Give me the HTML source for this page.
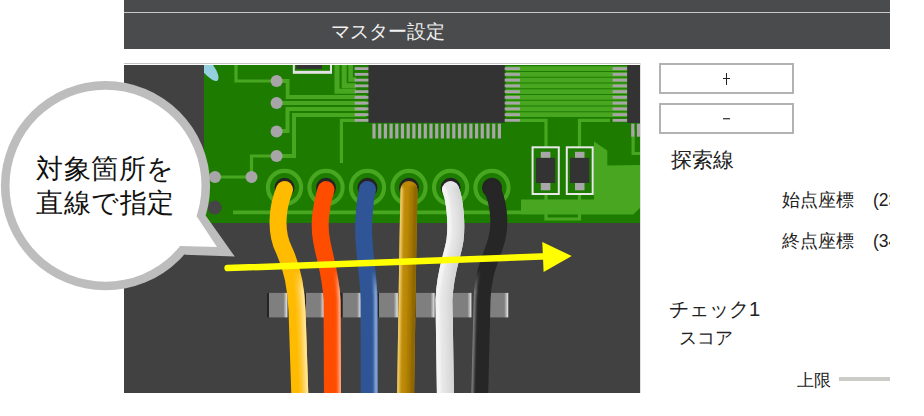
<!DOCTYPE html>
<html><head><meta charset="utf-8">
<style>
html,body{margin:0;padding:0;}
body{width:924px;height:416px;overflow:hidden;background:#fff;position:relative;font-family:"Liberation Sans",sans-serif;color:#222;}
.abs{position:absolute;}
#hdr{left:124px;top:0;width:766px;height:49px;background:#4a4b4d;}
#hdrline{left:124px;top:12px;width:766px;height:1px;background:#c9c9c9;}
#hdrtxt{left:331px;top:21px;font-size:19px;line-height:22px;color:#f0f0f0;white-space:nowrap;}
#imgline{left:124px;top:63px;width:517px;height:1px;background:#c6c4c6;}
.btn{left:659px;width:131px;height:27px;border:2px solid #b2b2b2;background:#fff;}
.t{white-space:nowrap;color:#222;}
svg{position:absolute;left:0;top:0;}
</style></head><body>
<div id="hdr" class="abs"></div>
<div id="hdrline" class="abs"></div>
<div id="hdrtxt" class="abs">マスター設定</div>
<div id="imgline" class="abs"></div>

<svg width="924" height="416" viewBox="0 0 924 416">
<defs>
<clipPath id="ic"><rect x="124" y="65" width="516" height="328"/></clipPath>
<clipPath id="pcb"><rect x="204" y="65" width="436" height="158"/></clipPath>
</defs>
<g clip-path="url(#ic)">
<rect x="124" y="65" width="516" height="328" fill="#414141"/>
<rect x="124" y="65" width="80" height="158" fill="#414141"/>
<rect x="204" y="65" width="436" height="158" fill="#1d7c00"/>
<g clip-path="url(#pcb)">
<ellipse cx="207" cy="67" rx="6" ry="17" transform="rotate(-38 207 67)" fill="#95d0e0"/>
<!-- light polygon -->
<polygon points="594,141.5 607.3,150.4 607.3,165.5 640,165 640,208 633.3,214.3 521,214.3 521,199.6 594,199.6" fill="#48a620"/>
<g fill="none" stroke="#48a620" stroke-width="3.2" stroke-linejoin="miter">
<polyline points="236,63 236,81 276,81"/>
<polyline points="276,81 287.6,81 287.6,97 366,97" stroke-width="3.8"/>
<polyline points="276,103 366,103" stroke-width="4"/>
<polyline points="276,131 287.5,131 287.5,109 366,109" stroke-width="4"/>
<polyline points="276,156 294,156 294,115 366,115" stroke-width="4"/>
<polyline points="276,156 251.5,156 251.5,177 215,177"/>
<polyline points="337,63 337,91.35 356,91.35" stroke-width="5"/>
<polyline points="344.2,63 344.2,85.7 356,85.7" stroke-width="5"/>
<polyline points="350.6,63 350.6,79.5 356,79.5" stroke-width="4.6"/>
<polyline points="341.4,163 341.4,120.3 356,120.3"/>
<polyline points="233,212.4 634,212.4" stroke-width="3.8"/>
<polyline points="610,120.3 579.5,120.3 579.5,147"/>
<polyline points="520,120.3 546,120.3 546,147"/>
<polyline points="546,194 546,219 579.5,219 579.5,194"/>
<polyline points="633.1,130 633.1,153.5 642,153.5"/>
</g>
<g stroke="#48a620" stroke-width="4.6">
<line x1="506" y1="68.6" x2="627" y2="68.6"/>
<line x1="506" y1="74.35" x2="627" y2="74.35"/>
<line x1="506" y1="80.1" x2="627" y2="80.1"/>
<line x1="506" y1="85.85" x2="627" y2="85.85"/>
<line x1="506" y1="91.6" x2="627" y2="91.6"/>
<line x1="506" y1="97.35" x2="627" y2="97.35"/>
<line x1="506" y1="103.1" x2="627" y2="103.1"/>
<line x1="506" y1="108.85" x2="627" y2="108.85"/>
<line x1="506" y1="114.6" x2="627" y2="114.6"/>
</g>
<!-- pads -->
<g fill="#a7a5a7">
<circle cx="276.6" cy="81" r="6"/>
<circle cx="276.6" cy="103" r="6"/>
<circle cx="276.6" cy="131.5" r="6"/>
<circle cx="276.6" cy="156" r="6"/>
<circle cx="251.5" cy="177" r="6"/>
<circle cx="215" cy="177" r="6"/>
</g>
<circle cx="214.7" cy="207.6" r="7" fill="#454545"/>
<!-- top component -->
<rect x="292.8" y="60" width="39.2" height="13.8" fill="#e4e2e4"/><rect x="294.8" y="60" width="35.2" height="10.8" fill="#1d7c00"/><rect x="296.3" y="60" width="25.7" height="8.9" fill="#333"/>
<!-- IC1 -->
<rect x="368.4" y="60" width="136.4" height="62.8" fill="#333"/>
<g fill="#a8a6a8" id="lp">
<rect x="354.7" y="67.2" width="13.7" height="2.8"/>
<rect x="354.7" y="72.95" width="13.7" height="2.8"/>
<rect x="354.7" y="78.7" width="13.7" height="2.8"/>
<rect x="354.7" y="84.45" width="13.7" height="2.8"/>
<rect x="354.7" y="90.2" width="13.7" height="2.8"/>
<rect x="354.7" y="95.95" width="13.7" height="2.8"/>
<rect x="354.7" y="101.7" width="13.7" height="2.8"/>
<rect x="354.7" y="107.45" width="13.7" height="2.8"/>
<rect x="354.7" y="113.2" width="13.7" height="2.8"/>
<rect x="354.7" y="118.95" width="13.7" height="2.8"/>
</g>
<g fill="#a8a6a8"><rect x="504.7" y="67.20" width="15.3" height="2.8"/><rect x="612.6" y="67.20" width="14.7" height="2.8"/><rect x="504.7" y="72.95" width="15.3" height="2.8"/><rect x="612.6" y="72.95" width="14.7" height="2.8"/><rect x="504.7" y="78.70" width="15.3" height="2.8"/><rect x="612.6" y="78.70" width="14.7" height="2.8"/><rect x="504.7" y="84.45" width="15.3" height="2.8"/><rect x="612.6" y="84.45" width="14.7" height="2.8"/><rect x="504.7" y="90.20" width="15.3" height="2.8"/><rect x="612.6" y="90.20" width="14.7" height="2.8"/><rect x="504.7" y="95.95" width="15.3" height="2.8"/><rect x="612.6" y="95.95" width="14.7" height="2.8"/><rect x="504.7" y="101.70" width="15.3" height="2.8"/><rect x="612.6" y="101.70" width="14.7" height="2.8"/><rect x="504.7" y="107.45" width="15.3" height="2.8"/><rect x="612.6" y="107.45" width="14.7" height="2.8"/><rect x="504.7" y="113.20" width="15.3" height="2.8"/><rect x="612.6" y="113.20" width="14.7" height="2.8"/><rect x="504.7" y="118.95" width="15.3" height="2.8"/><rect x="612.6" y="118.95" width="14.7" height="2.8"/></g>
<g fill="#a8a6a8">
<rect x="372.4" y="123.7" width="3.2" height="14.8"/>
<rect x="378.1" y="123.7" width="3.2" height="14.8"/>
<rect x="383.8" y="123.7" width="3.2" height="14.8"/>
<rect x="389.5" y="123.7" width="3.2" height="14.8"/>
<rect x="395.2" y="123.7" width="3.2" height="14.8"/>
<rect x="400.9" y="123.7" width="3.2" height="14.8"/>
<rect x="406.6" y="123.7" width="3.2" height="14.8"/>
<rect x="412.3" y="123.7" width="3.2" height="14.8"/>
<rect x="418" y="123.7" width="3.2" height="14.8"/>
<rect x="423.7" y="123.7" width="3.2" height="14.8"/>
<rect x="429.4" y="123.7" width="3.2" height="14.8"/>
<rect x="435.1" y="123.7" width="3.2" height="14.8"/>
<rect x="440.8" y="123.7" width="3.2" height="14.8"/>
<rect x="446.5" y="123.7" width="3.2" height="14.8"/>
<rect x="452.2" y="123.7" width="3.2" height="14.8"/>
<rect x="457.9" y="123.7" width="3.2" height="14.8"/>
<rect x="463.6" y="123.7" width="3.2" height="14.8"/>
<rect x="469.3" y="123.7" width="3.2" height="14.8"/>
<rect x="475" y="123.7" width="3.2" height="14.8"/>
<rect x="480.7" y="123.7" width="3.2" height="14.8"/>
<rect x="486.4" y="123.7" width="3.2" height="14.8"/>
<rect x="492.1" y="123.7" width="3.2" height="14.8"/>
<rect x="497.8" y="123.7" width="3.2" height="14.8"/>
<rect x="631.2" y="123.7" width="3.2" height="13"/>
<rect x="636.9" y="123.7" width="3.2" height="13"/>
</g>
<!-- IC2 -->
<rect x="627.3" y="60" width="20" height="63" fill="#333"/>
<!-- components -->
<g>
<rect x="532.6" y="147.3" width="26.2" height="46.7" fill="none" stroke="#e8e8e8" stroke-width="2"/>
<rect x="536" y="157.8" width="19.2" height="25.2" fill="#333"/>
<rect x="540.8" y="151.8" width="9.6" height="6" fill="#a8a6a8"/>
<rect x="540.8" y="183" width="9.6" height="7.3" fill="#a8a6a8"/>
<rect x="566.8" y="147.3" width="25.9" height="46.7" fill="none" stroke="#e8e8e8" stroke-width="2"/>
<rect x="570" y="157.8" width="19.3" height="25.2" fill="#333"/>
<rect x="575" y="151.8" width="9.5" height="6" fill="#a8a6a8"/>
<rect x="575" y="183" width="9.5" height="7.3" fill="#a8a6a8"/>
</g>
<!-- rings -->
<g fill="#242424" stroke="#48a620" stroke-width="4.1">
<circle cx="284.5" cy="187.5" r="16.6" fill="none"/>
<circle cx="326" cy="187.5" r="16.6" fill="none"/>
<circle cx="367.5" cy="187.5" r="16.6" fill="none"/>
<circle cx="409" cy="187.5" r="16.6" fill="none"/>
<circle cx="450.6" cy="187.5" r="16.6" fill="none"/>
<circle cx="492" cy="187.5" r="16.6" fill="none"/>
</g>
<g fill="#242424">
<circle cx="284.5" cy="187.8" r="10"/>
<circle cx="326" cy="187.8" r="10"/>
<circle cx="367.5" cy="187.8" r="10"/>
<circle cx="409" cy="187.8" r="10"/>
<circle cx="450.6" cy="187.8" r="10"/>
<circle cx="492" cy="187.8" r="10"/>
</g>
</g>
<!-- comb blocks -->
<defs><linearGradient id="bg" x1="0" x2="1" y1="0" y2="0"><stop offset="0" stop-color="#242424"/><stop offset="0.09" stop-color="#242424"/><stop offset="0.1" stop-color="#7f7f7f"/><stop offset="0.8" stop-color="#7f7f7f"/><stop offset="0.97" stop-color="#dedee0"/><stop offset="1" stop-color="#c8c8c8"/></linearGradient>
<linearGradient id="vg" gradientUnits="userSpaceOnUse" x1="0" y1="270" x2="0" y2="292"><stop offset="0" stop-color="#000"/><stop offset="1" stop-color="#fff"/></linearGradient>
<filter id="bl" filterUnits="userSpaceOnUse" x="124" y="65" width="516" height="328"><feGaussianBlur stdDeviation="1.1"/></filter>
<mask id="my" maskUnits="userSpaceOnUse" x="124" y="65" width="516" height="328"><path d="M284.5,189.5 C277,208 275,232 284,250 C291,265 296,285 297,310 L300,400" fill="none" stroke="url(#vg)" stroke-width="17" stroke-linecap="round"/></mask>
<mask id="mo" maskUnits="userSpaceOnUse" x="124" y="65" width="516" height="328"><path d="M326,189.5 C321,205 318.5,225 321.5,240 C324.5,258 331,275 332,300 L332.5,400" fill="none" stroke="url(#vg)" stroke-width="17" stroke-linecap="round"/></mask>
<mask id="mb" maskUnits="userSpaceOnUse" x="124" y="65" width="516" height="328"><path d="M367.5,189.5 C364,205 363,230 364,240 C365,260 369,280 369,300 L369.3,400" fill="none" stroke="url(#vg)" stroke-width="17" stroke-linecap="round"/></mask>
<mask id="mg" maskUnits="userSpaceOnUse" x="124" y="65" width="516" height="328"><path d="M409,189.5 L408,240 L405.5,400" fill="none" stroke="#fff" stroke-width="17" stroke-linecap="round"/></mask>
<mask id="mw" maskUnits="userSpaceOnUse" x="124" y="65" width="516" height="328"><path d="M450.6,189.5 C455,200 457,225 455,240 C453,255 445,270 444,300 L445.5,400" fill="none" stroke="#fff" stroke-width="17" stroke-linecap="round"/></mask>
<mask id="mk" maskUnits="userSpaceOnUse" x="124" y="65" width="516" height="328"><path d="M492,189.5 C498,200 501,222 497,238 C493,256 483,268 482,300 L479.5,400" fill="none" stroke="url(#vg)" stroke-width="17" stroke-linecap="round"/></mask>
</defs>
<g id="blk"><rect x="267" y="292.9" width="20.5" height="24.5" fill="url(#bg)"/></g>
<use href="#blk" x="36.8"/>
<use href="#blk" x="73.6"/>
<use href="#blk" x="110.4"/>
<use href="#blk" x="147.2"/>
<use href="#blk" x="184.0"/>
<use href="#blk" x="220.8"/>
<g fill="none" stroke-linecap="round">
<path d="M284.5,189.5 C277,208 275,232 284,250 C291,265 296,285 297,310 L300,400" stroke="#ffbb00" stroke-width="17"/>
<g mask="url(#my)"><g filter="url(#bl)">
<path d="M284.5,189.5 C277,208 275,232 284,250 C291,265 296,285 297,310 L300,400" transform="translate(6.00 0)" stroke="#ffc426" stroke-width="12.00"/>
<path d="M284.5,189.5 C277,208 275,232 284,250 C291,265 296,285 297,310 L300,400" transform="translate(7.75 0)" stroke="#ffd45c" stroke-width="8.50"/>
<path d="M284.5,189.5 C277,208 275,232 284,250 C291,265 296,285 297,310 L300,400" transform="translate(9.10 0)" stroke="#ffe699" stroke-width="5.80"/>
</g></g>
<path d="M326,189.5 C321,205 318.5,225 321.5,240 C324.5,258 331,275 332,300 L332.5,400" stroke="#ff4d00" stroke-width="17"/>
<g mask="url(#mo)"><g filter="url(#bl)">
<path d="M326,189.5 C321,205 318.5,225 321.5,240 C324.5,258 331,275 332,300 L332.5,400" transform="translate(8.50 0)" stroke="#ff7a3d" stroke-width="7.00"/>
<path d="M326,189.5 C321,205 318.5,225 321.5,240 C324.5,258 331,275 332,300 L332.5,400" transform="translate(9.50 0)" stroke="#ffb08a" stroke-width="5.00"/>
</g></g>
<path d="M367.5,189.5 C364,205 363,230 364,240 C365,260 369,280 369,300 L369.3,400" stroke="#2f5596" stroke-width="17"/>
<g mask="url(#mb)"><g filter="url(#bl)">
<path d="M367.5,189.5 C364,205 363,230 364,240 C365,260 369,280 369,300 L369.3,400" transform="translate(8.00 0)" stroke="#4a70b0" stroke-width="8.00"/>
<path d="M367.5,189.5 C364,205 363,230 364,240 C365,260 369,280 369,300 L369.3,400" transform="translate(6.90 0)" stroke="#a0bfe8" stroke-width="1.80"/>
</g></g>
<path d="M409,189.5 L408,240 L405.5,400" stroke="#bd8a08" stroke-width="17"/>
<g mask="url(#mg)"><g filter="url(#bl)">
<path d="M409,189.5 L408,240 L405.5,400" transform="translate(-8.75 0)" stroke="#e0b440" stroke-width="6.50"/>
<path d="M409,189.5 L408,240 L405.5,400" transform="translate(-9.50 0)" stroke="#f0d070" stroke-width="5.00"/>
<path d="M409,189.5 L408,240 L405.5,400" transform="translate(6.25 0)" stroke="#a87a05" stroke-width="11.50"/>
<path d="M409,189.5 L408,240 L405.5,400" transform="translate(8.25 0)" stroke="#8f6600" stroke-width="7.50"/>
</g></g>
<path d="M450.6,189.5 C455,200 457,225 455,240 C453,255 445,270 444,300 L445.5,400" stroke="#e6e6e6" stroke-width="17"/>
<g mask="url(#mw)"><g filter="url(#bl)">
<path d="M450.6,189.5 C455,200 457,225 455,240 C453,255 445,270 444,300 L445.5,400" transform="translate(-8.00 0)" stroke="#f4f4f4" stroke-width="8.00"/>
<path d="M450.6,189.5 C455,200 457,225 455,240 C453,255 445,270 444,300 L445.5,400" transform="translate(6.50 0)" stroke="#dedede" stroke-width="11.00"/>
<path d="M450.6,189.5 C455,200 457,225 455,240 C453,255 445,270 444,300 L445.5,400" transform="translate(8.50 0)" stroke="#d6d6d6" stroke-width="7.00"/>
</g></g>
<path d="M492,189.5 C498,200 501,222 497,238 C493,256 483,268 482,300 L479.5,400" stroke="#262626" stroke-width="17"/>
<g mask="url(#mk)"><g filter="url(#bl)">
<path d="M492,189.5 C498,200 501,222 497,238 C493,256 483,268 482,300 L479.5,400" transform="translate(-8.80 0)" stroke="#7a7a7a" stroke-width="5.60"/>
</g></g>
</g>
<!-- arrow -->
<line x1="227.6" y1="268.1" x2="548" y2="256.3" stroke="#ffff00" stroke-width="6.5" stroke-linecap="round"/>
<polygon points="542.3,241.9 571.7,255.9 543.6,271.9" fill="#ffff00"/>
</g>
<!-- image right border -->
<rect x="640" y="63" width="1" height="330" fill="#e0e0e0"/>
<!-- speech bubble -->
<g>
<polygon points="105.5,185.7 206,216 234.8,256.6 185,254.7" fill="#bdbdbd"/>
<circle cx="105.5" cy="185.7" r="104.6" fill="#bdbdbd"/>
<circle cx="105.5" cy="185.7" r="96" fill="#fff"/>
<polygon points="105.5,185.7 197,216.8 217,247 181,246" fill="#fff"/>
</g>
</svg>
<div class="abs t" style="left:36px;top:152px;font-size:27px;line-height:34px;letter-spacing:0.6px;color:#111;">対象箇所を<br>直線で指定</div>

<div class="abs btn" style="top:63px;"></div>
<div class="abs btn" style="top:103px;"></div>
<div class="abs" style="left:726px;top:73px;width:1px;height:12px;background:#222;"></div><div class="abs" style="left:723px;top:78px;width:7px;height:1px;background:#222;"></div>
<div class="abs" style="left:723px;top:118px;width:7px;height:1px;background:#444;"></div><div class="abs" style="left:723px;top:119px;width:7px;height:1px;background:#bbb;"></div>
<div class="abs t" style="left:671px;top:148px;font-size:21px;line-height:24px;">探索線</div>
<div class="abs" style="left:640px;top:180px;width:250px;height:220px;overflow:hidden;">
<div class="abs t" style="left:142px;top:10px;font-size:17.5px;line-height:20px;">始点座標</div>
<div class="abs t" style="left:233px;top:10px;font-size:17.5px;line-height:20px;">(23</div>
<div class="abs t" style="left:142px;top:50.5px;font-size:17.5px;line-height:20px;">終点座標</div>
<div class="abs t" style="left:233px;top:50.5px;font-size:17.5px;line-height:20px;">(34</div>
</div>
<div class="abs t" style="left:669px;top:297px;font-size:20.2px;line-height:24px;">チェック1</div>
<div class="abs t" style="left:679px;top:328px;font-size:17.5px;line-height:20px;">スコア</div>
<div class="abs t" style="left:797px;top:370.5px;font-size:17px;line-height:20px;">上限</div>
<div class="abs" style="left:839px;top:377px;width:51px;height:4px;background:#cbcbc7;"></div>
</body></html>
